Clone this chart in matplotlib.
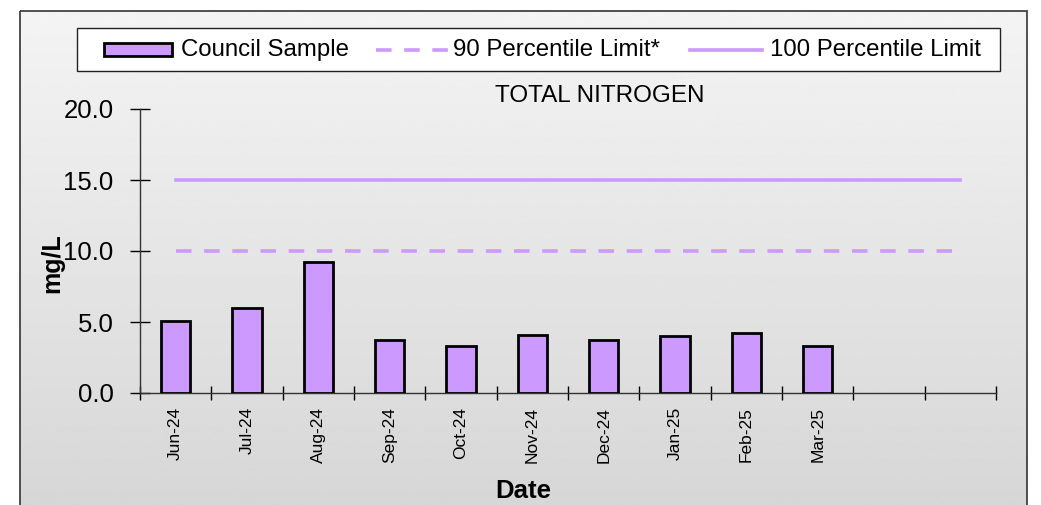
import matplotlib.pyplot as plt
import numpy as np
from matplotlib.lines import Line2D
from matplotlib.patches import Rectangle

plt.rcParams["font.family"] = ["Liberation Sans", "DejaVu Sans"]

months = ["Jun-24", "Jul-24", "Aug-24", "Sep-24", "Oct-24", "Nov-24",
          "Dec-24", "Jan-25", "Feb-25", "Mar-25", "", ""]
council_sample = [5.1, 6.0, 9.2, 3.7, 3.3, 4.1, 3.7, 4.0, 4.2, 3.3]
limit_90 = 10.0
limit_100 = 15.0
y_ticks = [0, 5, 10, 15, 20]

PURPLE = "#cc99ff"
W, H = 1041, 505

fig = plt.figure(figsize=(W / 100, H / 100), dpi=100)

# gradient panel and frame, drawn in pixel coordinates
bg = fig.add_axes([0, 0, 1, 1], zorder=-10)
bg.set_xlim(0, W)
bg.set_ylim(H, 0)
bg.axis("off")
grad = np.linspace(0.955, 0.84, 256).reshape(-1, 1)
bg.imshow(grad, cmap="gray", vmin=0, vmax=1, aspect="auto",
          extent=[20, 1027, 510, 11], interpolation="bilinear")
bg.add_patch(Rectangle((20, 11), 1007, 510, fill=False, edgecolor="#333333", lw=1.2))

ax = fig.add_axes([140 / W, 1 - 393 / H, (996 - 140) / W, (393 - 109) / H])
ax.patch.set_alpha(0)

x = np.arange(len(months))
ax.bar(x[:len(council_sample)], council_sample, width=0.41, color=PURPLE,
       edgecolor="black", linewidth=2, zorder=3)
ax.plot([x[0], x[-1]], [limit_90, limit_90], color=PURPLE, lw=2.6,
        linestyle=(0, (4.3, 3.5)), zorder=2)
ax.plot([x[0], x[-1]], [limit_100, limit_100], color=PURPLE, lw=2.6, zorder=2)

ax.set_xlim(-0.5, len(months) - 0.5)
ax.set_ylim(0, 20)
ax.set_yticks(y_ticks)
ax.set_yticklabels([f"{v:.1f}" for v in y_ticks], fontsize=18.5)
ax.tick_params(axis="y", direction="inout", length=15, width=1, pad=11.5)

ax.set_xticks(np.arange(len(months) + 1) - 0.5)
ax.set_xticklabels([])
ax.tick_params(axis="x", which="major", direction="inout", length=10, width=1)
ax.set_xticks(x, minor=True)
ax.set_xticklabels(months, minor=True, rotation=90, fontsize=12.5)
ax.tick_params(axis="x", which="minor", length=0, pad=10)

for side in ["top", "right"]:
    ax.spines[side].set_visible(False)
for side in ["left", "bottom"]:
    ax.spines[side].set_color("#333333")
    ax.spines[side].set_linewidth(1)

bg.text(52, 263, "mg/L", rotation=90, ha="center", va="center",
        fontsize=18, fontweight="bold")
bg.text(523, 491, "Date", ha="center", va="center", fontsize=18.5, fontweight="bold")
bg.text(600, 96, "TOTAL NITROGEN", ha="center", va="center", fontsize=17.5)

# legend box
bg.add_patch(Rectangle((77, 28), 923, 43, facecolor="white", edgecolor="#222222", lw=1))
bg.add_patch(Rectangle((104, 43), 68, 13, facecolor=PURPLE, edgecolor="black", lw=2))
bg.text(181, 50, "Council Sample", ha="left", va="center", fontsize=17.3)
bg.add_line(Line2D([376, 448], [50, 50], color=PURPLE, lw=2.6, linestyle=(0, (4.3, 3.5))))
bg.text(453, 50, "90 Percentile Limit*", ha="left", va="center", fontsize=17.3)
bg.add_line(Line2D([690, 762], [50, 50], color=PURPLE, lw=2.6))
bg.text(770, 50, "100 Percentile Limit", ha="left", va="center", fontsize=17.3)

fig.savefig("out.png", dpi=100)
